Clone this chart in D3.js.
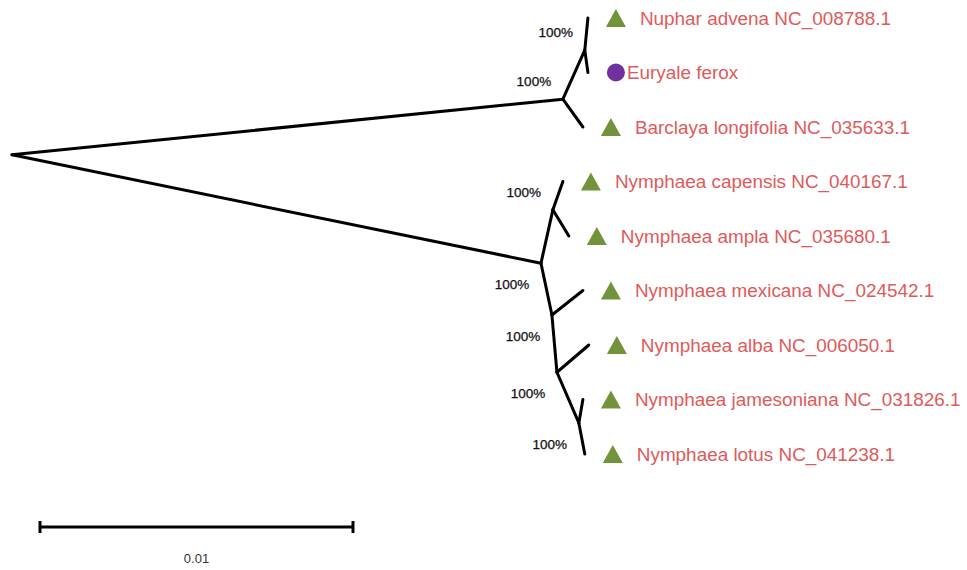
<!DOCTYPE html>
<html>
<head>
<meta charset="utf-8">
<script src="https://cdn.jsdelivr.net/npm/d3@7"></script>
<style>
  body { margin: 0; background: #fff; }
  svg { display: block; }
</style>
</head>
<body>
<div id="tree"></div>
<script>
// tree nodes: name, parent, branch length, vertical row
var nodeNames = ["root", "A", "C", "Nuphar advena NC_008788.1", "Euryale ferox", "Barclaya longifolia NC_035633.1",
  "B", "D", "Nymphaea capensis NC_040167.1", "Nymphaea ampla NC_035680.1",
  "E", "Nymphaea mexicana NC_024542.1", "F", "Nymphaea alba NC_006050.1",
  "G", "Nymphaea jamesoniana NC_031826.1", "Nymphaea lotus NC_041238.1"];
var nodeParents = [null, "root", "A", "C", "C", "A",
  "root", "B", "D", "D",
  "B", "E", "E", "F",
  "F", "G", "G"];
var branchLengths = [0, 0.01760, 0.00070, 0.00010, 0.00010, 0.00064,
  0.01690, 0.00038, 0.00032, 0.00051,
  0.00035, 0.00099, 0.00016, 0.00102,
  0.00070, 0.00013, 0.00019];
var nodeRows = [2.51, 1.49, 0.59, 0, 1, 2,
  4.5, 3.52, 3, 4,
  5.45, 5, 6.5, 6,
  7.43, 7, 8];
var bootstrap = [null, 100, 100, null, null, null,
  100, 100, null, null,
  100, null, 100, null,
  100, null, null];
var tipShapes = {"Euryale ferox": "circle"}; // everything else triangle
var scaleBarValue = 0.01;

var svgWidth = 967;
var svgHeight = 570;

var svg = d3.select("#tree")
  .append("svg")
  .attr("width", svgWidth)
  .attr("height", svgHeight);

// build node table
var nodes = nodeNames.map(function(name, i) {
  return {name: name, parent: nodeParents[i], len: branchLengths[i], row: nodeRows[i], boot: bootstrap[i]};
});
var byName = {};
nodes.forEach(function(d) { byName[d.name] = d; });
nodes.forEach(function(d) {
  var dist = 0, n = d;
  while (n) { dist += n.len; n = n.parent ? byName[n.parent] : null; }
  d.dist = dist;
  d.isTip = !nodes.some(function(o) { return o.parent === d.name; });
});

var xScale = d3.scaleLinear().domain([0, 0.01]).range([12, 325]);
var yScale = d3.scaleLinear().domain([0, 8]).range([18, 454]);

// branches
svg.append("g").selectAll("line")
  .data(nodes.filter(function(d) { return d.parent; }))
  .enter()
  .append("line")
  .attr("x1", function(d) { return xScale(byName[d.parent].dist); })
  .attr("y1", function(d) { return yScale(byName[d.parent].row); })
  .attr("x2", function(d) { return xScale(d.dist); })
  .attr("y2", function(d) { return yScale(d.row); })
  .attr("stroke", "#000")
  .attr("stroke-width", 3)
  .attr("stroke-linecap", "round");

// bootstrap labels
svg.append("g").selectAll("text")
  .data(nodes.filter(function(d) { return d.boot != null; }))
  .enter()
  .append("text")
  .attr("x", function(d) { return xScale(d.dist) - 29; })
  .attr("y", function(d) { return yScale(d.row) + (d.row > 4 ? 21 : -18) + 5; })
  .attr("text-anchor", "middle")
  .attr("font-family", "Liberation Sans, Arial, sans-serif")
  .attr("font-size", "13.5px")
  .attr("fill", "#111")
  .attr("stroke", "#111")
  .attr("stroke-width", 0.25)
  .text(function(d) { return d.boot + "%"; });

// tips: marker + label
var tips = svg.append("g").selectAll("g")
  .data(nodes.filter(function(d) { return d.isTip; }))
  .enter()
  .append("g")
  .attr("transform", function(d) { return "translate(" + (xScale(d.dist) + 28) + "," + yScale(d.row) + ")"; });

tips.each(function(d) {
  var g = d3.select(this);
  if (tipShapes[d.name] === "circle") {
    g.append("circle").attr("r", 9).attr("fill", "#7030a0");
  } else {
    g.append("path").attr("d", "M0,-9L10,9L-10,9Z").attr("fill", "#72933a");
  }
});

tips.append("text")
  .attr("x", function(d) { return tipShapes[d.name] === "circle" ? 11 : 24; })
  .attr("y", 6.5)
  .attr("font-family", "Liberation Sans, Arial, sans-serif")
  .attr("font-size", "18.9px")
  .attr("fill", "#df5a5a")
  .text(function(d) { return d.name; });

// scale bar
var barX = 40, barY = 527;
var barLen = xScale(scaleBarValue) - xScale(0);
var bar = svg.append("g").attr("stroke", "#000").attr("stroke-width", 3);
bar.append("line").attr("x1", barX).attr("x2", barX + barLen).attr("y1", barY).attr("y2", barY);
bar.append("line").attr("x1", barX).attr("x2", barX).attr("y1", barY - 6).attr("y2", barY + 6);
bar.append("line").attr("x1", barX + barLen).attr("x2", barX + barLen).attr("y1", barY - 6).attr("y2", barY + 6);

svg.append("text")
  .attr("x", barX + barLen / 2)
  .attr("y", 563)
  .attr("text-anchor", "middle")
  .attr("font-family", "Liberation Sans, Arial, sans-serif")
  .attr("font-size", "13px")
  .attr("fill", "#333")
  .text(scaleBarValue);
</script>
</body>
</html>
